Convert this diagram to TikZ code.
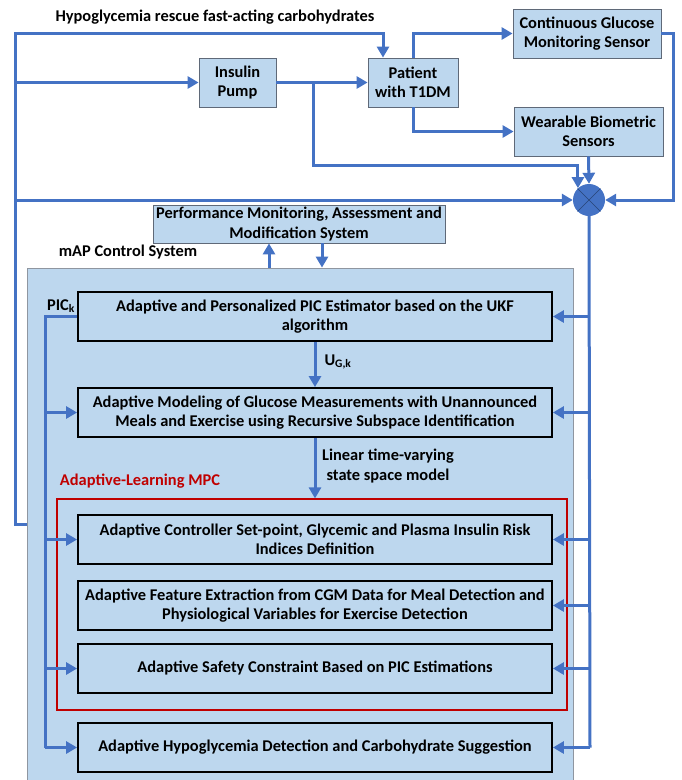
\documentclass[tikz,border=0pt]{standalone}
\usepackage{fontspec}
\setmainfont{Carlito}
\usepackage{xcolor}
\usepackage{tikz}
\usetikzlibrary{arrows.meta}

\definecolor{flowblue}{RGB}{68,114,196}
\definecolor{boxblue}{RGB}{189,215,238}
\definecolor{mpcred}{RGB}{192,0,0}
\definecolor{edgegray}{RGB}{95,105,120}

\begin{document}
\begin{tikzpicture}[x=1pt, y=-1pt,
		every node/.style={font=\bfseries\fontsize{16.4}{19.5}\selectfont},
		wire/.style={line width=3pt, draw=flowblue},
		flow/.style={wire, -{Triangle[length=11pt, width=12pt]}},
		outerbox/.style={
			rectangle, fill=boxblue, draw=edgegray, line width=0.8pt,
			align=center, inner sep=1pt
		},
		stagebox/.style={
			rectangle, fill=boxblue, draw=black, line width=1.8pt,
			align=center, minimum width=474pt, minimum height=49pt
		}]
		\useasboundingbox (0,0) rectangle (682,780);

		% outer loop
		\node (rescue) at (215,17) {Hypoglycemia rescue fast-acting carbohydrates};
		\node[outerbox, minimum width=77pt, minimum height=49pt] (pump) at (237.5,82.5) {Insulin\\Pump};
		\node[outerbox, minimum width=90pt, minimum height=49pt] (pat) at (413,82.5) {Patient\\with T1DM};
		\node[outerbox, minimum width=148pt, minimum height=49pt] (cgm) at (587,33.5) {Continuous Glucose\\Monitoring Sensor};
		\node[outerbox, minimum width=149pt, minimum height=49pt] (wbs) at (588.5,131.5) {Wearable Biometric\\Sensors};
		\node[circle, fill=flowblue, minimum size=32pt, inner sep=0pt] (sum) at (589,200) {};
		\draw[draw=flowblue!60!black, line width=0.4pt] (sum.45) -- (sum.225) (sum.135) -- (sum.315);
		\node[outerbox, minimum width=292pt, minimum height=38pt] (perf) at (299,224) {Performance Monitoring, Assessment and\\Modification System};

		% control system
		\node[rectangle, fill=boxblue, draw=edgegray!70, line width=0.8pt,
			minimum width=546pt, minimum height=512pt] (map) at (300,524) {};
		\node (maplbl) at (128,252) {mAP Control System};
		\node[draw=mpcred, line width=1.2pt, minimum width=510pt, minimum height=211pt] (mpc) at (312,604.5) {};
		\node[text=mpcred] (mpclbl) at (140,481) {Adaptive-Learning MPC};

		\node[stagebox] (est) at (315,316.5) {Adaptive and Personalized PIC Estimator based on the UKF\\algorithm};
		\node[stagebox] (mod) at (315,412.5) {Adaptive Modeling of Glucose Measurements with Unannounced\\Meals and Exercise using Recursive Subspace Identification};
		\node[stagebox] (spt) at (315,539.5) {Adaptive Controller Set-point, Glycemic and Plasma Insulin Risk\\Indices Definition};
		\node[stagebox] (feat) at (315,605.5) {Adaptive Feature Extraction from CGM Data for Meal Detection and\\Physiological Variables for Exercise Detection};
		\node[stagebox] (safe) at (315,668.5) {Adaptive Safety Constraint Based on PIC Estimations};
		\node[stagebox] (hyp) at (315,747.5) {Adaptive Hypoglycemia Detection and Carbohydrate Suggestion};

		\node (ugk) at (338,362) {U\textsubscript{G,k}};
		\node (pick) at (61,306) {PIC\textsubscript{k}};
		\node[align=center] (ltv) at (388,466) {Linear time-varying\\ state space model};

		% connectors
		\coordinate (ltop) at (15,33);
		\coordinate (lbot) at (15,524);
		\draw[flow] (map.west) -- (lbot) -- (ltop) -| ([xshift=-30pt]pat.north);
		\draw[flow] (ltop |- pump.west) -- (pump.west);
		\draw[flow] (ltop |- sum.west) -- (sum.west);
		\draw[flow] (pump.east) -- (pat.west);
		\coordinate (br) at (313,82.5);
		\draw[flow] (br) -- (313,165) -| (sum.133);
		\draw[flow] (pat.north) |- (cgm.west);
		\draw[flow] (pat.south) |- (wbs.west);
		\draw[flow] (wbs.south) -- (sum.north);
		\draw[flow] (cgm.east) -- (673,33.5) |- (sum.east);

		\draw[flow] (map.north -| 269,0) -- (perf.south -| 269,0);
		\draw[flow] (perf.south -| 322,0) -- (map.north -| 322,0);

		\draw[flow] (est.south) -- (mod.north);
		\draw[flow] (mod.south) -- (mpc.north -| mod.south);

		\coordinate (rbot) at (590,747.5);
		\draw[wire] (sum.south) -- (rbot);
		\foreach \b in {est,mod,spt,feat,safe,hyp} {
				\draw[flow] (rbot |- \b.east) -- (\b.east);
			}

		\coordinate (pic) at (45,316.5);
		\draw[wire] (est.west) -- (pic) -- (pic |- hyp.west);
		\foreach \b in {mod,spt,safe,hyp} {
				\draw[flow] (pic |- \b.west) -- (\b.west);
			}
	\end{tikzpicture}
\end{document}
